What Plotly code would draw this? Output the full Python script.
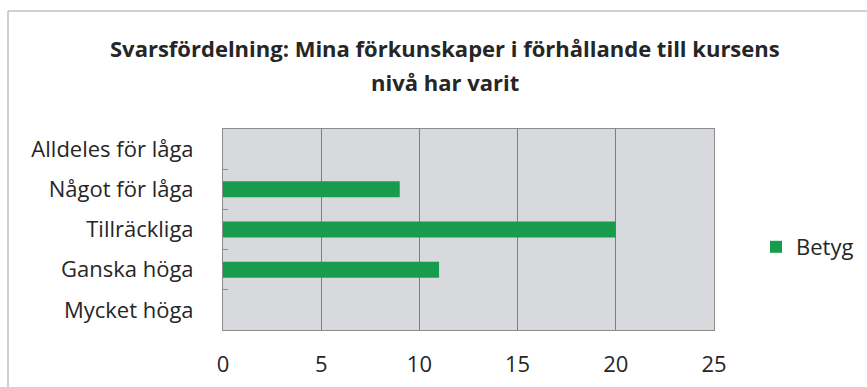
import plotly.graph_objects as go

# Svarsfördelning per kategori
categories = ["Alldeles för låga", "Något för låga", "Tillräckliga", "Ganska höga", "Mycket höga"]
values = [0, 9, 20, 11, 0]
series_name = "Betyg"
x_ticks = [0, 5, 10, 15, 20, 25]

title_line1 = "Svarsfördelning: Mina förkunskaper i förhållande till kursens"
title_line2 = "nivå har varit"

W, H = 867, 387
L, R, T, B = 223, 153, 129, 57
pw, ph = W - L - R, H - T - B

def px_x(x):
    return (x - L) / pw

def px_y(y):
    return (H - B - y) / ph

FONT = "Open Sans"
TXT = "#262626"
GREEN = "#169c4c"
FS = 22

fig = go.Figure()
fig.add_trace(go.Bar(
    x=values, y=categories, orientation="h", name=series_name,
    marker=dict(color=GREEN, line=dict(width=0)), width=0.4,
))

fig.update_layout(
    width=W, height=H,
    margin=dict(l=L, r=R, t=T, b=B, autoexpand=False),
    paper_bgcolor="white", plot_bgcolor="#d8d9dc",
    font=dict(family=FONT, size=FS, color=TXT),
    showlegend=True,
    legend=dict(x=px_x(756), y=px_y(247), xanchor="left", yanchor="middle",
                font=dict(size=FS, color=TXT), bgcolor="rgba(0,0,0,0)",
                itemwidth=30),
    xaxis=dict(range=[0, 25], tickvals=x_ticks, showgrid=True, gridcolor="#7f7f7f",
               gridwidth=1, zeroline=False, showline=True, linecolor="#8c8c8c",
               mirror=True, ticks="", ticklabelstandoff=15,
               tickfont=dict(size=FS, color=TXT)),
    yaxis=dict(categoryorder="array", categoryarray=categories, autorange="reversed",
               showgrid=False, showline=True, linecolor="#8c8c8c", mirror=True,
               ticks="inside", tickson="boundaries", ticklen=5, tickcolor="#8c8c8c",
               ticklabelstandoff=24, tickfont=dict(size=FS, color=TXT)),
    shapes=[dict(type="rect", xref="paper", yref="paper",
                 x0=px_x(8), x1=px_x(875), y0=px_y(395), y1=px_y(11),
                 line=dict(color="#a3a3a3", width=1), layer="below")],
    annotations=[
        dict(text=title_line1, xref="paper", yref="paper", x=px_x(445), y=px_y(48),
             xanchor="center", yanchor="middle", showarrow=False,
             font=dict(family=FONT, size=FS, color=TXT, weight="bold")),
        dict(text=title_line2, xref="paper", yref="paper", x=px_x(445), y=px_y(82),
             xanchor="center", yanchor="middle", showarrow=False,
             font=dict(family=FONT, size=FS, color=TXT, weight="bold")),
    ],
)

fig.write_html("out.html")
